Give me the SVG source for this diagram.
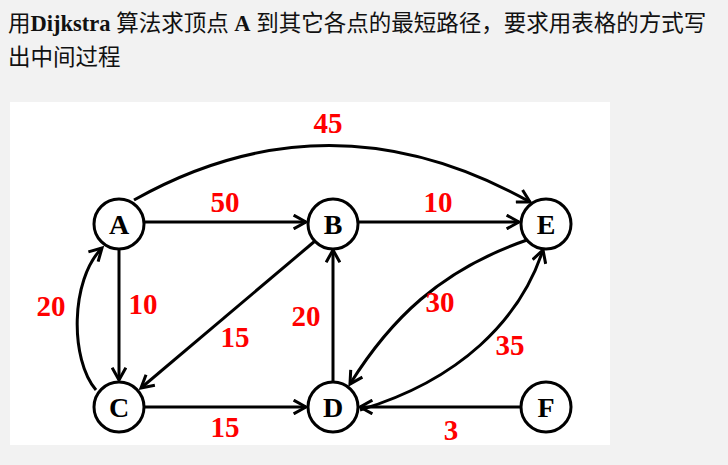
<svg xmlns="http://www.w3.org/2000/svg" width="728" height="465" viewBox="0 0 728 465">
<style>
.t{font-family:"Liberation Serif","Noto Sans CJK SC",serif;font-size:22.5px;fill:#111}
.n circle{fill:#fff;stroke:#000;stroke-width:3}
.n text{font-family:"Liberation Serif",serif;font-weight:bold;font-size:28px;text-anchor:middle;fill:#000}
.e path{fill:none;stroke:#000;stroke-width:3;marker-end:url(#ar)}
.w{font-family:"Liberation Serif",serif;font-weight:bold;font-size:29px;fill:#f00;text-anchor:middle}
</style>
<defs><marker id="ar" viewBox="0 0 12 12" refX="10" refY="6" markerWidth="5.5" markerHeight="5.5" orient="auto" markerUnits="strokeWidth"><path d="M1,1 L10,6 L1,11" fill="none" stroke="#000" stroke-width="2.2"/></marker></defs>
<rect width="728" height="465" fill="#f2f2f2"/>
<rect x="10" y="102" width="600" height="343" fill="#fff"/>
<text class="t" x="8" y="31">用<tspan font-weight="bold">Dijkstra</tspan> 算法求顶点 <tspan font-weight="bold">A</tspan> 到其它各点的最短路径，要求用表格的方式写</text>
<text class="t" x="8" y="65">出中间过程</text>
<g id="connectors" class="e">
<path d="M134,200 Q330,90 530,202"/>
<path d="M145,222 L306,222"/>
<path d="M358,222 L519,222"/>
<path d="M119,248 L119,380"/>
<path d="M96,390 C70,360 70,280 102,248"/>
<path d="M315,241 L141,388"/>
<path d="M145,407 L306,407"/>
<path d="M333,382 L333,250"/>
<path d="M527,240 C440,270 390,320 350,384"/>
<path d="M360,410 C460,380 520,320 543,250"/>
<path d="M521,407 L360,407"/>
</g>
<g id="weights">
<text class="w" x="328" y="133">45</text>
<text class="w" x="225" y="212">50</text>
<text class="w" x="438" y="212">10</text>
<text class="w" x="51" y="316">20</text>
<text class="w" x="143" y="314">10</text>
<text class="w" x="235" y="347">15</text>
<text class="w" x="306" y="326">20</text>
<text class="w" x="440" y="312">30</text>
<text class="w" x="510" y="355">35</text>
<text class="w" x="225" y="437">15</text>
<text class="w" x="451" y="440">3</text>
</g>
<g id="A" class="n"><circle cx="119" cy="224" r="25"/><text x="119" y="234">A</text></g>
<g id="B" class="n"><circle cx="333" cy="224" r="25"/><text x="333" y="234">B</text></g>
<g id="E" class="n"><circle cx="546" cy="224" r="25"/><text x="546" y="234">E</text></g>
<g id="C" class="n"><circle cx="119" cy="407" r="25"/><text x="119" y="417">C</text></g>
<g id="D" class="n"><circle cx="333" cy="407" r="25"/><text x="333" y="417">D</text></g>
<g id="F" class="n"><circle cx="546" cy="407" r="25"/><text x="546" y="417">F</text></g>
</svg>
